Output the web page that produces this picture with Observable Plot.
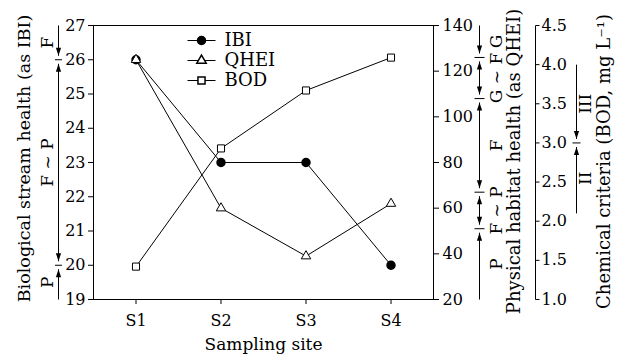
<!DOCTYPE html>
<html><head><meta charset="utf-8">
<script src="https://cdn.jsdelivr.net/npm/d3@7"></script>
<script src="https://cdn.jsdelivr.net/npm/@observablehq/plot@0.6"></script>
<style>body{margin:0;background:#fff}</style>
</head><body><div id="chart"></div>
<script>
// ---- data ----
const sites = ["S1", "S2", "S3", "S4"];
const ibi = [26, 23, 23, 20];
const qhei = [125, 60, 39, 62];
const bod = [1.42, 2.93, 3.67, 4.09];
const seriesNames = ["IBI", "QHEI", "BOD"];
const ibiTicks = [19, 20, 21, 22, 23, 24, 25, 26, 27];
const qheiTicks = [20, 40, 60, 80, 100, 120, 140];
const bodTicks = [1.0, 1.5, 2.0, 2.5, 3.0, 3.5, 4.0, 4.5];
const ibiClasses = ["F", "F ~ P", "P"];
const ibiBounds = [27, 26, 20, 19];
const qheiClasses = ["G", "G ~ F", "F", "F ~ P", "P"];
const qheiBounds = [140, 126, 108, 67, 51, 20];
const bodClasses = ["III", "II"];
const bodBounds = [4.0, 3.0, 2.1];
const titleIBI = "Biological stream health (as IBI)";
const titleQHEI = "Physical habitat health (as QHEI)";
const titleBOD = "Chemical criteria (BOD, mg L\u207B\u00B9)";
const titleX = "Sampling site";

// ---- layout ----
const W = 631, H = 358, ML = 93, MR = 198, MT = 25, MB = 59;
const PW = W - ML - MR, PH = H - MT - MB;
const Y0 = 19, Y1 = 27;
const fromQ = q => Y0 + (q - 20) / 120 * (Y1 - Y0);
const fromB = b => Y0 + (b - 1) / 3.5 * (Y1 - Y0);
const toQ = v => 20 + (v - Y0) / (Y1 - Y0) * 120;
const xpx = px => 0.5 + (px - ML) / PW * 4;      // pixel -> x scale value
const ypx = py => Y0 + (H - MB - py) / PH * (Y1 - Y0); // pixel -> y scale value
const pxU = (Y1 - Y0) / PH;
const GAP = 4 * pxU;
const SERIF = "'DejaVu Serif', serif";

const rows = sites.map((s, i) => ({site: s, i: i + 1, ibi: ibi[i], q: fromQ(qhei[i]), b: fromB(bod[i])}));

const headUp = {draw(ctx) { ctx.moveTo(0, 0); ctx.lineTo(2.6, 8); ctx.lineTo(-2.6, 8); ctx.closePath(); }};
const headDown = {draw(ctx) { ctx.moveTo(0, 0); ctx.lineTo(2.6, -8); ctx.lineTo(-2.6, -8); ctx.closePath(); }};

function classMarks(bounds, labels, conv, colPx, labPx, half) {
  const v = bounds.map(conv);
  const n = v.length;
  const shafts = [], ups = [], downs = [], bars = [], labs = [];
  for (let k = 0; k < n - 1; k++) {
    const top = v[k], bot = v[k + 1];
    const hTop = k > 0, hBot = k < n - 2;
    shafts.push({y1: hTop ? top - GAP : top, y2: hBot ? bot + GAP : bot});
    if (hTop) ups.push(top - GAP);
    if (hBot) downs.push(bot + GAP);
    labs.push({y: (top + bot) / 2, t: labels[k]});
  }
  for (let k = 1; k < n - 1; k++) bars.push(v[k]);
  const xc = xpx(colPx);
  return [
    Plot.link(shafts, {x1: xc, x2: xc, y1: "y1", y2: "y2", stroke: "black", strokeWidth: 1}),
    Plot.dot(ups, {x: xc, y: d => d, symbol: headUp, fill: "black", stroke: "none"}),
    Plot.dot(downs, {x: xc, y: d => d, symbol: headDown, fill: "black", stroke: "none"}),
    Plot.link(bars, {x1: xpx(colPx - half), x2: xpx(colPx + half), y1: d => d, y2: d => d, stroke: "black", strokeWidth: 1}),
    Plot.text(labs, {x: xpx(labPx), y: "y", text: "t", rotate: -90, fontSize: 17, fill: "black"})
  ];
}

const legend = seriesNames.map((name, k) => ({name, y: ypx(40 + 20 * k)}));

const chart = Plot.plot({
  width: W, height: H,
  marginLeft: ML, marginRight: MR, marginTop: MT, marginBottom: MB,
  x: {type: "linear", domain: [0.5, 4.5], label: null},
  y: {domain: [Y0, Y1], label: null},
  style: {fontFamily: SERIF, fontSize: "16px", color: "black", background: "white"},
  marks: [
    Plot.frame({stroke: "black"}),
    Plot.axisX(rows.map(d => d.i), {tickFormat: i => sites[i - 1], tickSize: 5, tickPadding: 10, label: null}),
    Plot.axisY(ibiTicks, {anchor: "left", tickSize: 5, tickPadding: 3, label: null}),
    Plot.axisY(qheiTicks.map(fromQ), {anchor: "right", tickFormat: v => Math.round(toQ(v)), tickSize: 5, tickPadding: 4, label: null}),
    // third (BOD) axis
    Plot.link([0], {x1: xpx(535), x2: xpx(535), y1: Y0, y2: Y1, stroke: "black"}),
    Plot.link(bodTicks, {x1: xpx(535), x2: xpx(539), y1: fromB, y2: fromB, stroke: "black"}),
    Plot.text(bodTicks, {x: xpx(541), y: fromB, text: d => d.toFixed(1), textAnchor: "start", fill: "black"}),
    // series
    Plot.line(rows, {x: "i", y: "ibi", stroke: "black", strokeWidth: 1}),
    Plot.line(rows, {x: "i", y: "q", stroke: "black", strokeWidth: 1}),
    Plot.line(rows, {x: "i", y: "b", stroke: "black", strokeWidth: 1}),
    Plot.dot(rows, {x: "i", y: "ibi", r: 4, fill: "black", stroke: "black"}),
    Plot.dot(rows, {x: "i", y: "q", symbol: "triangle", r: 3.5, fill: "white", stroke: "black", strokeWidth: 1}),
    Plot.dot(rows, {x: "i", y: "b", symbol: "square", r: 4, fill: "white", stroke: "black", strokeWidth: 1}),
    // legend
    Plot.link(legend, {x1: xpx(187), x2: xpx(215), y1: "y", y2: "y", stroke: "black"}),
    Plot.dot(legend.slice(0, 1), {x: xpx(201), y: "y", r: 4, fill: "black", stroke: "black"}),
    Plot.dot(legend.slice(1, 2), {x: xpx(201), y: "y", symbol: "triangle", r: 3.5, fill: "white", stroke: "black"}),
    Plot.dot(legend.slice(2, 3), {x: xpx(201), y: "y", symbol: "square", r: 4, fill: "white", stroke: "black"}),
    Plot.text(legend, {x: xpx(224), y: "y", text: "name", textAnchor: "start", fontSize: 18, fill: "black"}),
    // class annotations
    ...classMarks(ibiBounds, ibiClasses, v => v, 58, 47, 3.5),
    ...classMarks(qheiBounds, qheiClasses, fromQ, 479, 496, 5),
    ...classMarks(bodBounds, bodClasses, fromB, 576, 585, 4),
    // titles
    Plot.text([titleIBI], {x: xpx(24), y: ypx(158), text: d => d, rotate: -90, fontSize: 17.5, fill: "black"}),
    Plot.text([titleQHEI], {x: xpx(514), y: ypx(161), text: d => d, rotate: -90, fontSize: 18, fill: "black"}),
    Plot.text([titleBOD], {x: xpx(604), y: ypx(161), text: d => d, rotate: -90, fontSize: 18, fill: "black"}),
    Plot.text([titleX], {x: xpx(263), y: ypx(344), text: d => d, fontSize: 17, fill: "black"})
  ]
});
document.getElementById("chart").appendChild(chart);
</script>
</body></html>
